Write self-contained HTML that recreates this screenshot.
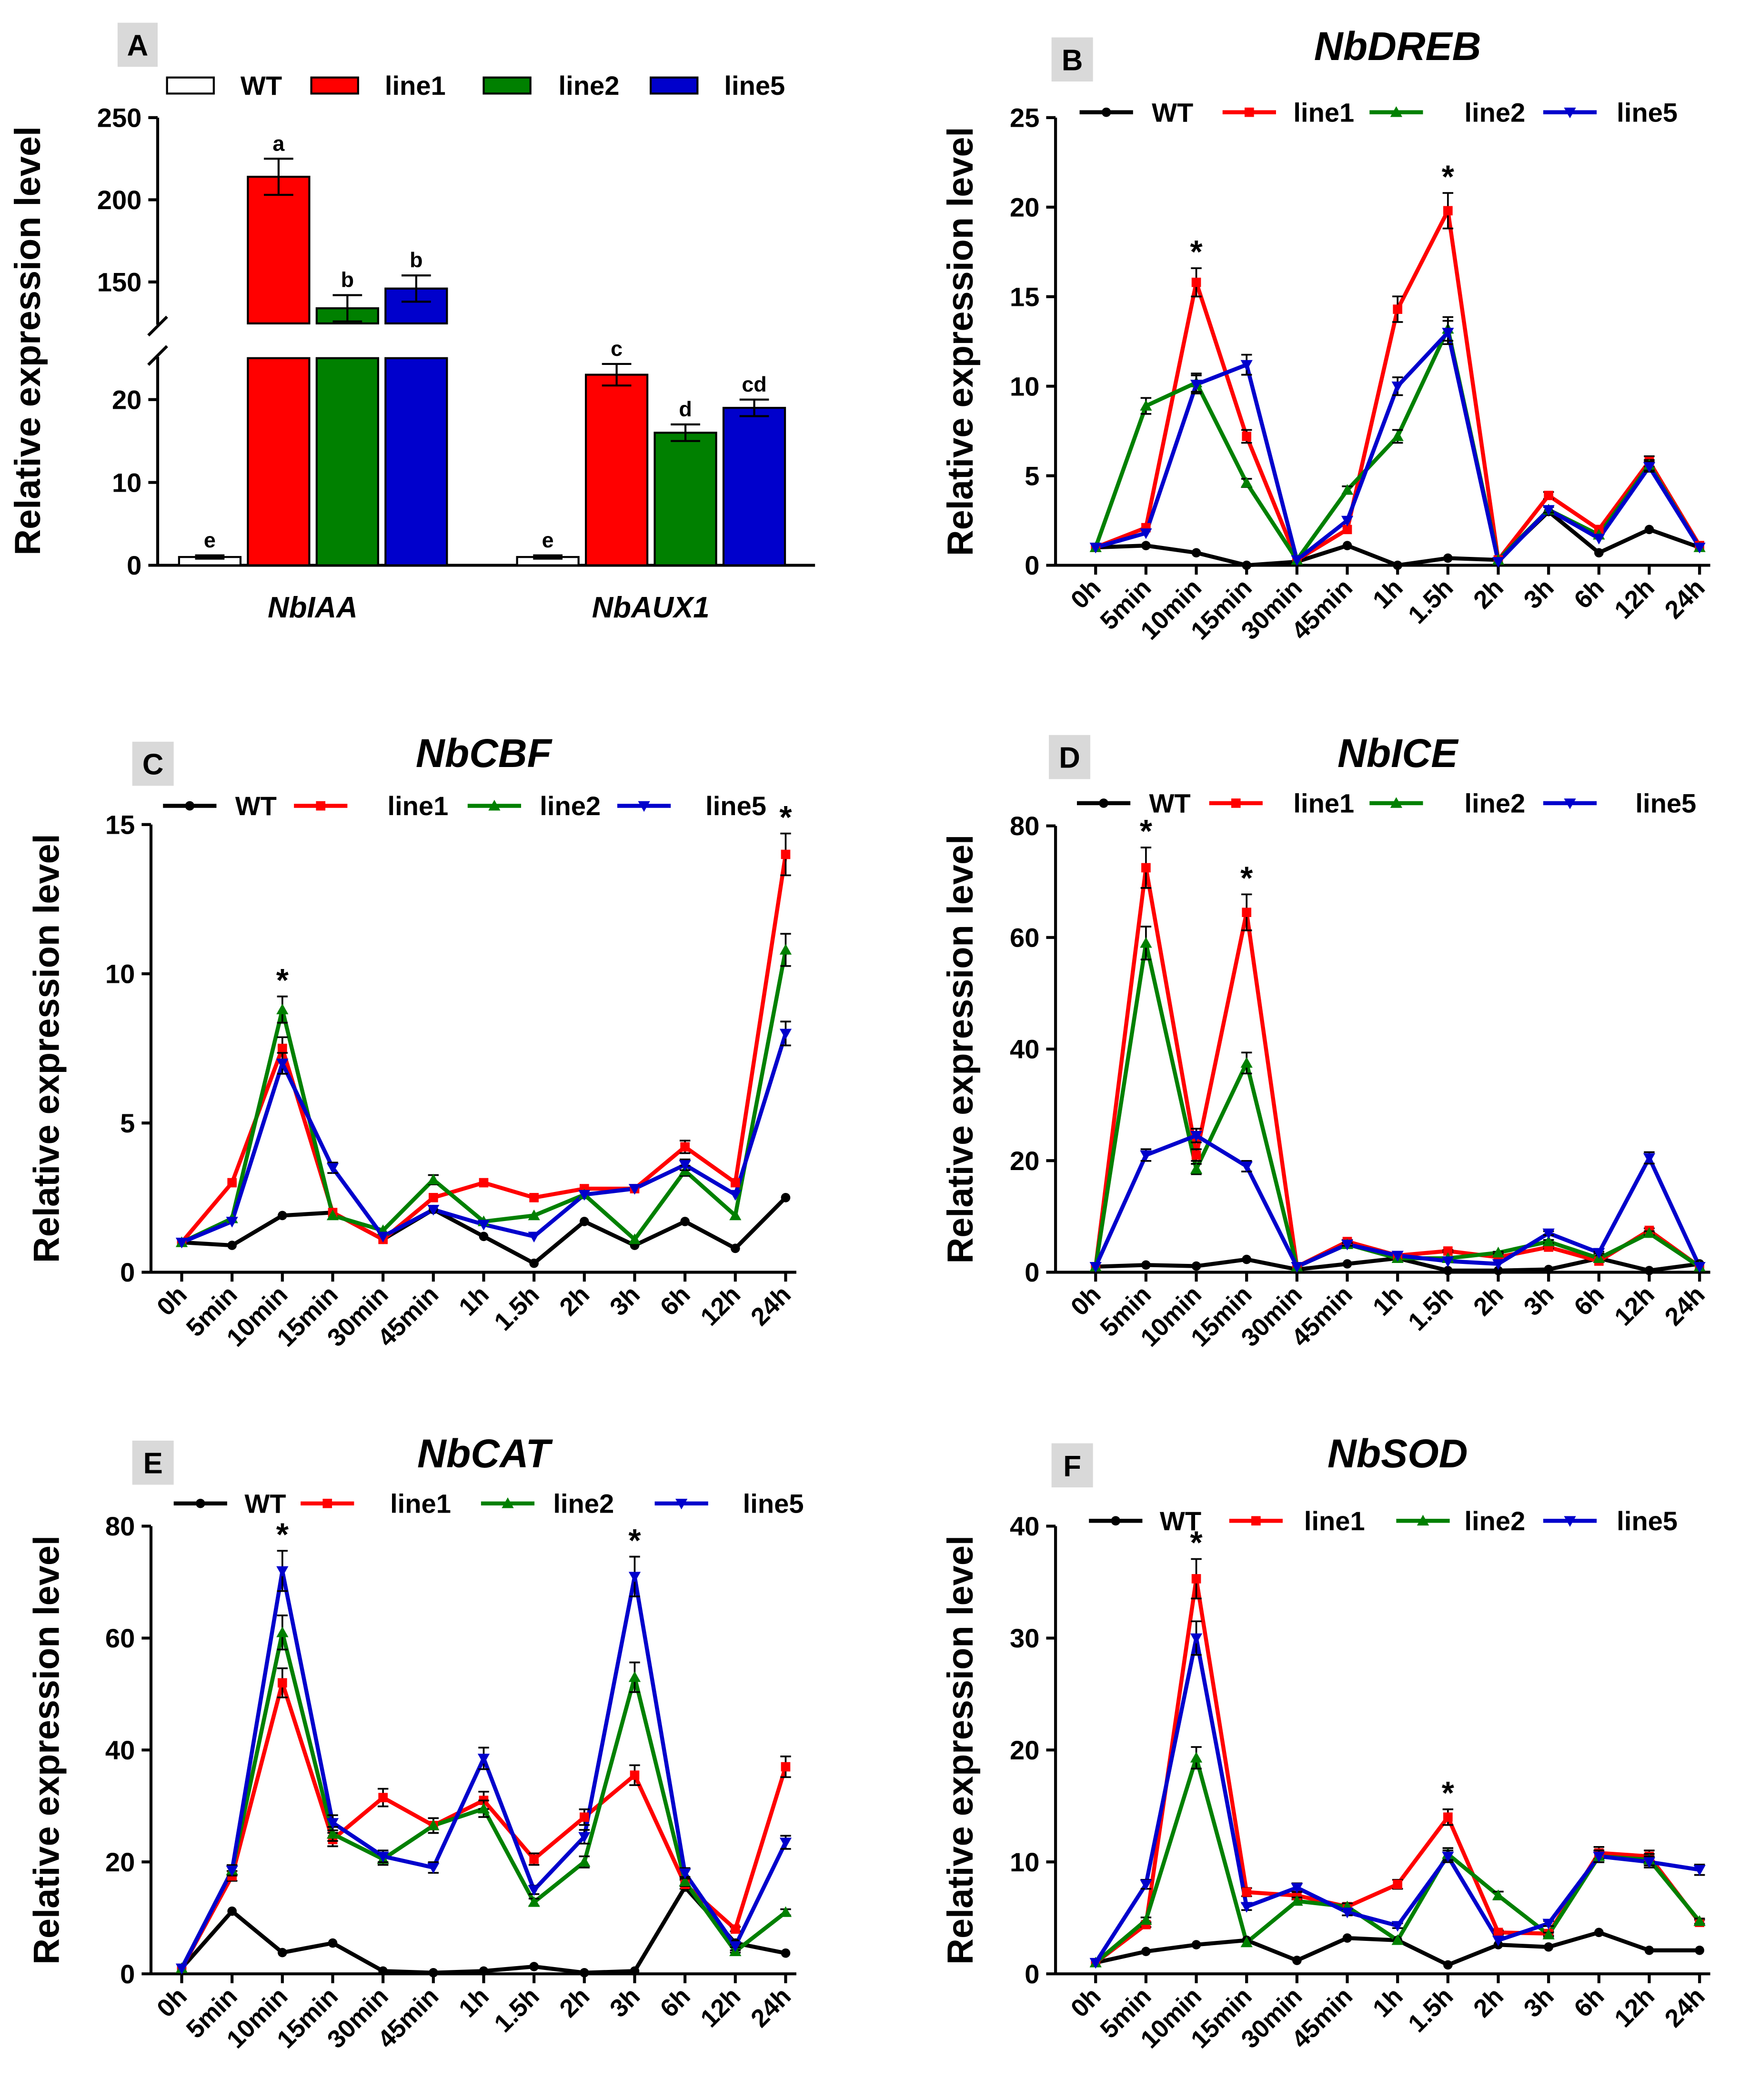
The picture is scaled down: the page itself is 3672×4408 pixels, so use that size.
<!DOCTYPE html>
<html><head><meta charset="utf-8"><style>
html,body{margin:0;padding:0;background:#fff;}
svg{display:block;}
text{font-family:"Liberation Sans",Arial,sans-serif;font-weight:bold;}
</style></head><body>
<svg id="fig" xmlns="http://www.w3.org/2000/svg" width="3672" height="4408" viewBox="0 0 1309 1571.4" preserveAspectRatio="none"></svg>
<script>
const timeLabels=["0h","5min","10min","15min","30min","45min","1h","1.5h","2h","3h","6h","12h","24h"];
const seriesNames=["WT","line1","line2","line5"];
const seriesColors=["#000000","#ff0000","#008000","#0000cc"];
const barColors=["#ffffff","#ff0000","#008000","#0000cc"];
// Panel A
const geneA=["NbIAA","NbAUX1"];
const iaaVals=[1,214,134,146];
const aux1Vals=[1,23,16,19];
const iaaErr=[0.2,11,8,8];
const aux1Err=[0.2,1.3,1,1];
const iaaLetters=["e","a","b","b"];
const aux1Letters=["e","c","d","cd"];
// DREB
const dWT=[1,1.1,0.7,0,0.2,1.1,0,0.4,0.3,3,0.7,2,1];
const d1=[1,2.1,15.8,7.2,0.3,2,14.3,19.8,0.3,3.9,2,5.8,1.1];
const d2=[1,8.9,10.2,4.6,0.3,4.2,7.2,13.2,0.3,3.1,1.7,5.6,1];
const d5=[1,1.8,10.1,11.2,0.3,2.5,10,13,0.2,3.1,1.5,5.5,1];
// CBF
const cWT=[1,0.9,1.9,2,1.1,2.1,1.2,0.3,1.7,0.9,1.7,0.8,2.5];
const c1=[1,3,7.5,2,1.1,2.5,3,2.5,2.8,2.8,4.2,3,14];
const c2=[1,1.8,8.8,1.9,1.4,3.1,1.7,1.9,2.6,1.1,3.4,1.9,10.8];
const c5=[1,1.7,7,3.5,1.2,2.1,1.6,1.2,2.6,2.8,3.6,2.6,8];
// ICE
const iWT=[1,1.3,1.1,2.3,0.5,1.5,2.5,0.3,0.3,0.5,2.5,0.3,1.5];
const i1=[1,72.5,21,64.5,1,5.5,3,3.8,2.7,4.5,2,7.5,1];
const i2=[1,59,18.5,37.5,1,5,2.5,2.5,3.5,5.5,2.5,7,1];
const i5=[1,21,24.5,19,1,5,3,2,1.5,7,3.5,20.5,1];
// CAT
const eWT=[1,11.2,3.8,5.5,0.5,0.2,0.5,1.3,0.2,0.5,15.5,5.5,3.7];
const e1=[1,17.5,52,24,31.5,26.5,31,20.5,28,35.5,16,8,37];
const e2=[1,18.5,61,25,20.5,26.5,29.5,12.8,20,53,16.5,4,11];
const e5=[1,18.5,72,27,21,19,38.5,15,24.5,71,18,5,23.5];
// SOD
const sWT=[1,2,2.6,3,1.2,3.2,3,0.8,2.6,2.4,3.7,2.1,2.1];
const s1=[1,4.4,35.3,7.3,7,6,8,14,3.7,3.6,10.8,10.5,4.6];
const s2=[1,4.8,19.3,2.8,6.5,6,3,10.7,7,3.5,10.5,10.2,4.7];
const s5=[1,8,30,6,7.7,5.5,4.3,10.5,3,4.5,10.5,10,9.3];

const NS="http://www.w3.org/2000/svg";
const svg=document.getElementById('fig');
function mk(tag,attrs,parent,txt){const e=document.createElementNS(NS,tag);for(const k in attrs)e.setAttribute(k,attrs[k]);if(txt!==undefined)e.textContent=txt;(parent||svg).appendChild(e);return e;}

function marker(g,k,x,y,col){
  let e;
  if(k===0)e=mk('circle',{cx:x,cy:y,r:3.5,fill:col},g);
  else if(k===1)e=mk('rect',{x:x-3.5,y:y-3.5,width:7,height:7,fill:col},g);
  else if(k===2)e=mk('polygon',{points:`${x},${y-4.5} ${x-4.5},${y+3.5} ${x+4.5},${y+3.5}`,fill:col},g);
  else e=mk('polygon',{points:`${x},${y+4.5} ${x-4.5},${y-3.5} ${x+4.5},${y-3.5}`,fill:col},g);
  return e;
}
function panelLabel(g,letter,x,y,w,h){
  const r=mk('rect',{x:x,y:y,width:w,height:h,fill:'#d9d9d9'},g);
  
  
  const t=mk('text',{x:x+w/2,y:y+h/2+8,'font-size':22,'text-anchor':'middle'},g,letter);
  
  
}
function legend(g,y,pos,isBar){
  for(let k=0;k<4;k++){
    const p=pos[k];
    const lg=mk('g',{},g);
    
    
    if(isBar){
      mk('rect',{x:p[0],y:y-6,width:35,height:12,fill:barColors[k],stroke:'#000','stroke-width':1.5},lg);
    }else{
      mk('line',{x1:p[0],y1:y,x2:p[0]+40,y2:y,stroke:seriesColors[k],'stroke-width':3},lg);
      marker(lg,k,p[0]+20,y,seriesColors[k]);
    }
    mk('text',{x:p[1],y:y+7,'font-size':20},lg,seriesNames[k]);
  }
}
function linePanel(cfg){
  const g=mk('g',{});
  
  
  const yS=v=>cfg.y0-(v/cfg.ymax)*(cfg.y0-cfg.ytop);
  const xS=i=>cfg.x0+i*(cfg.x1-cfg.x0)/12;
  const ya=mk('line',{x1:cfg.ax,y1:cfg.ytop,x2:cfg.ax,y2:cfg.y0,stroke:'#000','stroke-width':2.2},g);
  
  const xa=mk('line',{x1:cfg.ax,y1:cfg.y0,x2:cfg.x1+8,y2:cfg.y0,stroke:'#000','stroke-width':2.2},g);
  
  for(let v=0;v<=cfg.ymax;v+=cfg.step){
    mk('line',{x1:cfg.ax-7,y1:yS(v),x2:cfg.ax,y2:yS(v),stroke:'#000','stroke-width':2.2},g);
    const t=mk('text',{x:cfg.ax-12,y:yS(v)+7,'font-size':20,'text-anchor':'end'},g,String(v));
    
  }
  for(let i=0;i<13;i++){
    mk('line',{x1:xS(i),y1:cfg.y0,x2:xS(i),y2:cfg.y0+7,stroke:'#000','stroke-width':2.2},g);
    const tx=xS(i)+5, ty=cfg.y0+18;
    const t=mk('text',{x:tx,y:ty,'font-size':19,'text-anchor':'end',transform:`rotate(-45 ${tx} ${ty})`},g,timeLabels[i]);
    
  }
  const yt=mk('text',{x:cfg.ytx,y:(cfg.ytop+cfg.y0)/2,'font-size':27,'text-anchor':'middle',transform:`rotate(-90 ${cfg.ytx} ${(cfg.ytop+cfg.y0)/2})`},g,'Relative expression level');
  
  const tt=mk('text',{x:cfg.tx,y:cfg.ty,'font-size':30,'font-style':'italic','text-anchor':'middle'},g,cfg.title);
  
  panelLabel(g,cfg.letter,cfg.lb[0],cfg.lb[1],31,33);
  legend(g,cfg.ly,cfg.lpos,false);
  for(let k=0;k<4;k++){
    const d=cfg.series[k];
    const pts=d.map((v,i)=>xS(i)+','+yS(v)).join(' ');
    const pl=mk('polyline',{points:pts,fill:'none',stroke:seriesColors[k],'stroke-width':3,'stroke-linejoin':'round'},g);
    
    
  }
  for(let k=0;k<4;k++){
    const d=cfg.series[k];
    d.forEach((v,i)=>{
      if(k>0&&v>3){const e=v*0.05;mk('line',{x1:xS(i),y1:yS(v-e),x2:xS(i),y2:yS(v+e),stroke:'#000','stroke-width':1.3},g);mk('line',{x1:xS(i)-4,y1:yS(v+e),x2:xS(i)+4,y2:yS(v+e),stroke:'#000','stroke-width':1.3},g);mk('line',{x1:xS(i)-4,y1:yS(v-e),x2:xS(i)+4,y2:yS(v-e),stroke:'#000','stroke-width':1.3},g);}
      const m=marker(g,k,xS(i),yS(v),seriesColors[k]);
      
      
    });
  }
  cfg.stars.forEach(i=>{
    const mx=Math.max(...cfg.series.map(s=>s[i]));
    const st=mk('text',{x:xS(i),y:yS(mx*1.05)-4,'font-size':24,'text-anchor':'middle','font-weight':'normal'},g,'*');
    
  });
}

// Panel A
(function(){
  const g=mk('g',{});
  
  
  const ax=118, y0=423;
  const yS=v=>v<=25.5? y0-v*6.2 : 88+(250-v)*1.23;
  mk('line',{x1:ax,y1:88,x2:ax,y2:243,stroke:'#000','stroke-width':2.2},g);
  mk('line',{x1:ax,y1:267,x2:ax,y2:y0,stroke:'#000','stroke-width':2.2},g);
  mk('line',{x1:ax-7,y1:251,x2:ax+7,y2:237,stroke:'#000','stroke-width':2.2},g);
  mk('line',{x1:ax-7,y1:273,x2:ax+7,y2:259,stroke:'#000','stroke-width':2.2},g);
  mk('line',{x1:ax,y1:y0,x2:610,y2:y0,stroke:'#000','stroke-width':2.2},g);
  [0,10,20,150,200,250].forEach(v=>{
    mk('line',{x1:ax-7,y1:yS(v),x2:ax,y2:yS(v),stroke:'#000','stroke-width':2.2},g);
    const t=mk('text',{x:ax-12,y:yS(v)+7,'font-size':20,'text-anchor':'end'},g,String(v));
    
  });
  const yt=mk('text',{x:30,y:255,'font-size':27,'text-anchor':'middle',transform:'rotate(-90 30 255)'},g,'Relative expression level');
  
  panelLabel(g,'A',88,17,30,33);
  legend(g,64,[[125,180],[233,288],[362,418],[487,542]],true);
  const groups=[[iaaVals,iaaErr,iaaLetters,157],[aux1Vals,aux1Err,aux1Letters,410]];
  groups.forEach((gr,gi)=>{
    const [vals,errs,lets,cx0]=gr;
    vals.forEach((v,k)=>{
      const cx=cx0+k*51.5, w=46;
      if(v>25.5){
        const b1=mk('rect',{x:cx-w/2,y:268,width:w,height:y0-268,fill:barColors[k],stroke:'#000','stroke-width':1.5},g);
        
        const b2=mk('rect',{x:cx-w/2,y:yS(v),width:w,height:242-yS(v),fill:barColors[k],stroke:'#000','stroke-width':1.5},g);
        
      }else{
        const b=mk('rect',{x:cx-w/2,y:yS(v),width:w,height:y0-yS(v),fill:barColors[k],stroke:'#000','stroke-width':1.5},g);
        
      }
      const e=errs[k];
      const yt2=yS(v+e), yb=yS(v-e);
      mk('line',{x1:cx,y1:yt2,x2:cx,y2:yb,stroke:'#000','stroke-width':1.5},g);
      mk('line',{x1:cx-11,y1:yt2,x2:cx+11,y2:yt2,stroke:'#000','stroke-width':1.5},g);
      mk('line',{x1:cx-11,y1:yb,x2:cx+11,y2:yb,stroke:'#000','stroke-width':1.5},g);
      const lt=mk('text',{x:cx,y:yt2-6,'font-size':16,'font-weight':'normal','text-anchor':'middle'},g,lets[k]);
      
    });
    const gl=mk('text',{x:cx0+77,y:462,'font-size':22,'font-style':'italic','text-anchor':'middle'},g,geneA[gi]);
    
  });
})();

linePanel({name:'panel-b-nbdreb',title:'NbDREB',letter:'B',lb:[787,28],tx:1046,ty:45,ax:790,x0:820,x1:1272,ytop:88,y0:423,ymax:25,step:5,ytx:728,ly:84,
  lpos:[[808,862],[915,968],[1025,1096],[1155,1210]],series:[dWT,d1,d2,d5],stars:[2,7]});
linePanel({name:'panel-c-nbcbf',title:'NbCBF',letter:'C',lb:[99,555],tx:362,ty:574,ax:113,x0:136,x1:588,ytop:617,y0:952,ymax:15,step:5,ytx:44,ly:603,
  lpos:[[122,176],[220,290],[350,404],[462,528]],series:[cWT,c1,c2,c5],stars:[2,12]});
linePanel({name:'panel-d-nbice',title:'NbICE',letter:'D',lb:[785,550],tx:1046,ty:574,ax:790,x0:820,x1:1272,ytop:618,y0:952,ymax:80,step:20,ytx:728,ly:601,
  lpos:[[806,860],[905,968],[1025,1096],[1155,1224]],series:[iWT,i1,i2,i5],stars:[1,3]});
linePanel({name:'panel-e-nbcat',title:'NbCAT',letter:'E',lb:[99,1078],tx:362,ty:1098,ax:113,x0:136,x1:588,ytop:1142,y0:1477,ymax:80,step:20,ytx:44,ly:1125,
  lpos:[[130,183],[225,292],[360,414],[490,556]],series:[eWT,e1,e2,e5],stars:[2,9]});
linePanel({name:'panel-f-nbsod',title:'NbSOD',letter:'F',lb:[787,1080],tx:1046,ty:1098,ax:790,x0:820,x1:1272,ytop:1142,y0:1477,ymax:40,step:10,ytx:728,ly:1138,
  lpos:[[815,868],[920,976],[1045,1096],[1155,1210]],series:[sWT,s1,s2,s5],stars:[2,7]});
</script>
</body></html>
